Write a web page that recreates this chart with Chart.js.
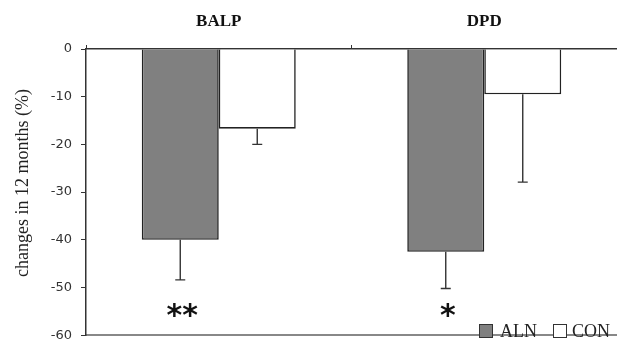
<!DOCTYPE html>
<html>
<head>
<meta charset="utf-8">
<script src="https://cdn.jsdelivr.net/npm/chart.js@4"></script>
<style>
  html, body { margin: 0; padding: 0; background: #fff; }
  #wrap { width: 617px; height: 352px; }
</style>
</head>
<body>
<div id="wrap"><canvas id="barChart"></canvas></div>
<script>
// chart data
const categories = ["BALP", "DPD"];
const alnValues = [-40, -42.5];
const conValues = [-16.7, -9.5];
// error bars only go downwards (lower extent)
const alnErr = [8.4, 7.7];
const conErr = [3.3, 18.4];
const marks = ["**", "*"];
const yTicks = [0, -10, -20, -30, -40, -50, -60];

const lineColor = "#333";

//draws error bars, significance stars, legend and y title
const extras = {
  id: "extras",
  afterDatasetsDraw(chart) {
    const ctx = chart.ctx;
    const y = chart.scales.y;
    const errs = [alnErr, conErr];
    const vals = [alnValues, conValues];
    ctx.save();
    ctx.strokeStyle = lineColor;
    ctx.lineWidth = 1.4;
    for (let d = 0; d < 2; d++) {
      const meta = chart.getDatasetMeta(d);
      meta.data.forEach(function (bar, i) {
        const y0 = y.getPixelForValue(vals[d][i]);
        const y1 = y.getPixelForValue(vals[d][i] - errs[d][i]);
        ctx.beginPath();
        ctx.moveTo(bar.x, y0);
        ctx.lineTo(bar.x, y1);
        ctx.moveTo(bar.x - 5, y1);
        ctx.lineTo(bar.x + 5, y1);
        ctx.stroke();
      });
    }

    //stars under ALN bars
    ctx.fillStyle = "#111";
    ctx.font = "bold 30px 'DejaVu Sans'";
    ctx.textAlign = "center";
    ctx.textBaseline = "middle";
    const alnMeta = chart.getDatasetMeta(0);
    alnMeta.data.forEach(function (bar, i) {
      ctx.fillText(marks[i], bar.x + 2, 317);
    });

    //legend
    ctx.font = "18px 'Liberation Serif'";
    ctx.textAlign = "left";
    ctx.textBaseline = "middle";
    ctx.lineWidth = 1;
    ctx.fillStyle = "#808080";
    ctx.fillRect(479.5, 324.5, 13, 13);
    ctx.strokeStyle = "#333";
    ctx.strokeRect(479.5, 324.5, 13, 13);
    ctx.fillStyle = "#222";
    ctx.fillText("ALN", 500, 332);
    ctx.fillStyle = "#fff";
    ctx.fillRect(553.5, 324.5, 13, 13);
    ctx.strokeRect(553.5, 324.5, 13, 13);
    ctx.fillStyle = "#222";
    ctx.fillText("CON", 572, 332);

    //y axis title
    ctx.translate(23, 183);
    ctx.rotate(-Math.PI / 2);
    ctx.textAlign = "center";
    ctx.font = "18px 'Liberation Serif'";
    ctx.fillText("changes in 12 months (%)", 0, 0);
    ctx.restore();
  },
};

const bar = document.getElementById("barChart");
const barChart = new Chart(bar, {
  type: "bar",
  data: {
    labels: categories,
    datasets: [
      {
        label: "ALN",
        data: alnValues,
        backgroundColor: "#808080",
        borderColor: "#222",
        borderWidth: 1.6,
        borderSkipped: "start",
        categoryPercentage: 0.58,
        barPercentage: 1,
      },
      {
        label: "CON",
        data: conValues,
        backgroundColor: "#ffffff",
        borderColor: "#222",
        borderWidth: 1.6,
        borderSkipped: "start",
        categoryPercentage: 0.58,
        barPercentage: 1,
      },
    ],
  },
  options: {
    responsive: true,
    maintainAspectRatio: false,
    animation: false,
    layout: { padding: 0 },
    plugins: {
      legend: { display: false },
      tooltip: { enabled: false },
    },
    scales: {
      x: {
        position: "top",
        grid: {
          offset: true,
          drawOnChartArea: false,
          tickLength: 4,
          color: lineColor,
        },
        border: { color: lineColor, width: 1.5 },
        ticks: {
          color: "#111",
          font: { family: "Liberation Serif", size: 17, weight: "bold" },
          padding: 13,
        },
        afterFit(scale) {
          scale.height = 49;
        },
      },
      xb: {
        type: "category",
        position: "bottom",
        labels: categories,
        grid: { display: false },
        border: { color: "#888", width: 2 },
        ticks: { display: false },
        afterFit(scale) {
          scale.height = 4;
        },
      },
      y: {
        min: -60,
        max: 0,
        afterBuildTicks(scale) {
          scale.ticks = yTicks.map(function (v) {
            return { value: v };
          });
        },
        grid: {
          drawOnChartArea: false,
          tickLength: 5,
          color: lineColor,
        },
        border: { color: lineColor, width: 1.5 },
        ticks: {
          color: "#333",
          font: { family: "DejaVu Sans", size: 13 },
          padding: 9,
        },
        afterFit(scale) {
          scale.width = 86;
        },
      },
    },
  },
  plugins: [extras],
});
</script>
</body>
</html>
